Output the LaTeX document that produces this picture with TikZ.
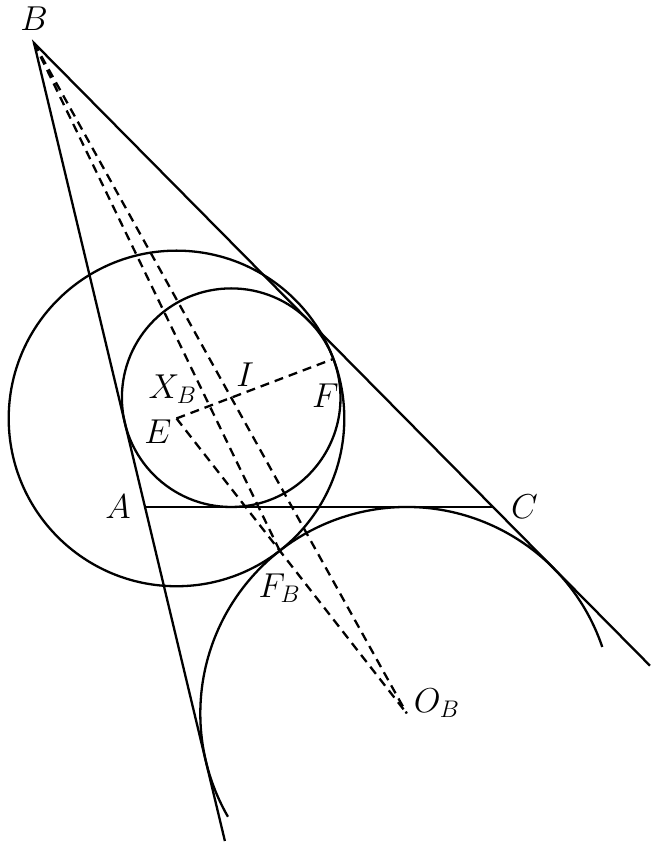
\documentclass[tikz,border=0pt]{standalone}
\usetikzlibrary{positioning}

\begin{document}
\begin{tikzpicture}[x=0.5pt, y=0.5pt, line width=1.15pt,
    aux/.style={dash pattern=on 4.5pt off 3pt},
    lbl/.style={font=\LARGE, inner sep=0pt}]
        \useasboundingbox (0,0) rectangle (656,846);
        % triangle and the special points
        \coordinate (B) at (34,803);
        \coordinate (A) at (145,339);
        \coordinate (C) at (493,339);
        \coordinate (Aend) at (224.9,5);
        \coordinate (Cend) at (650,180.3);
        \coordinate (I) at (231.2,448.3);
        \coordinate (E) at (176.5,427.55);
        \coordinate (F) at (333.4,487.1);
        \coordinate (FB) at (279.7,295.3);
        \coordinate (XB) at (209.6,440.1);
        \coordinate (OB) at (406.8,132.5);

        \draw (Aend) -- (B) -- (Cend);
        \draw (A) -- (C);
        \draw (I) circle (109.3);
        \draw (E) circle (167.8);
        \draw ([shift={(18.8:206.5)}]OB) arc (18.8:210:206.5);
        \draw [aux] (B) -- (OB) (B) -- (FB);
        \draw [aux] (E) -- (OB) (E) -- (F);

        \node [lbl, above=5.5pt of B] (lB) {$B$};
        \node [lbl, left=6.5pt of A] (lA) {$A$};
        \node [lbl, right=8.5pt of C] (lC) {$C$};
        \node [lbl, above right=5pt and 2pt of I] (lI) {$I$};
        \node [lbl, above left=0.5pt and 5.8pt of XB] (lXB) {$X_B$};
        \node [lbl, below left=0pt and 2pt of E] (lE) {$E$};
        \node [lbl, below=12pt of F, xshift=-4pt] (lF) {$F$};
        \node [lbl, below=11pt of FB] (lFB) {$F_B$};
        \node [lbl, right=3pt of OB, yshift=5pt] (lOB) {$O_B$};
\end{tikzpicture}
\end{document}
